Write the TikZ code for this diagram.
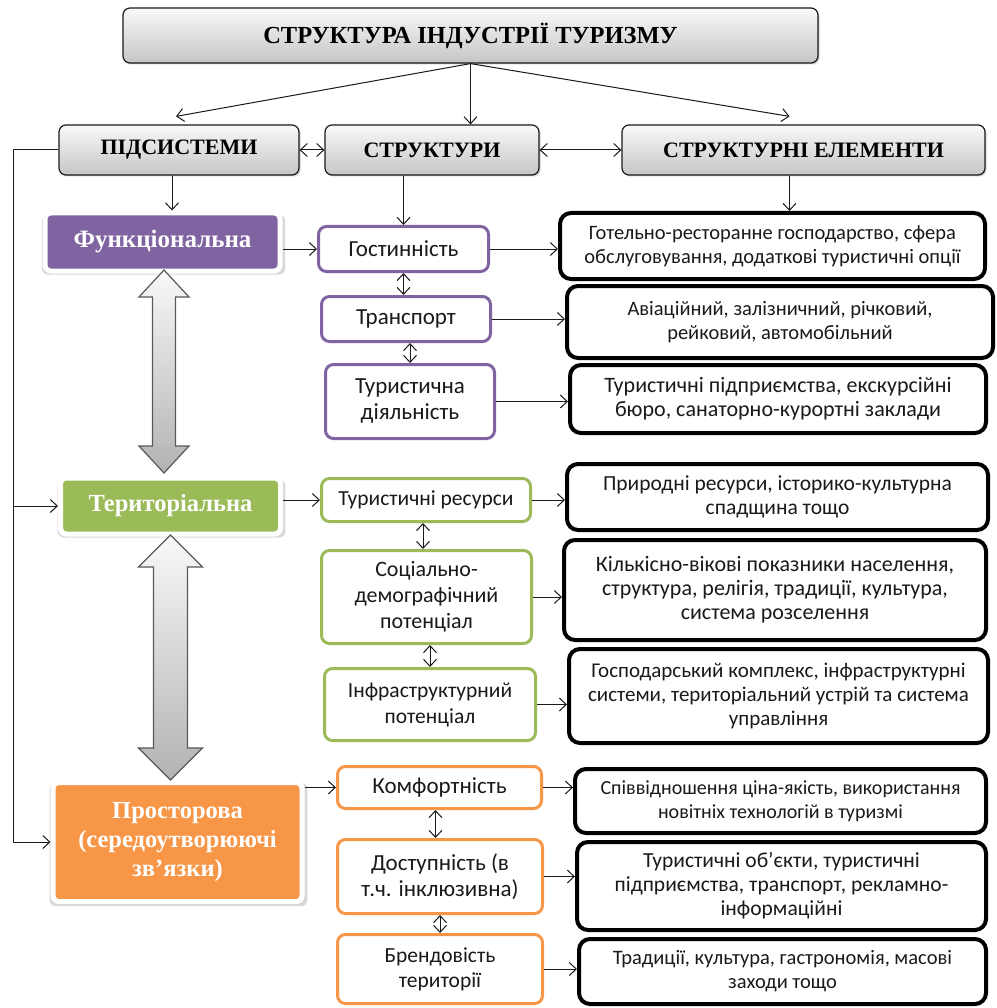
\documentclass[tikz,border=0pt]{standalone}
\usepackage{fontspec}
\setmainfont{Liberation Serif}
\newfontfamily\bodyfont{Carlito}
\usetikzlibrary{arrows.meta,calc,shadows}
\definecolor{ink}{HTML}{1A1A1A}
\definecolor{purp}{HTML}{8064A2}
\definecolor{grn}{HTML}{9BBB59}
\definecolor{orng}{HTML}{F79646}
\tikzset{
  head/.style={draw=ink, line width=1.2pt, rounded corners=7pt, top color=gray!5, bottom color=gray!45, inner sep=0pt, font=\bfseries\fontsize{22}{26}\selectfont, drop shadow={opacity=0.35, shadow xshift=1.5pt, shadow yshift=-1.5pt}},
  subsys/.style={fill=#1, draw=white, line width=5pt, rounded corners=6pt, inner sep=0pt, align=center, text=white, font=\bfseries\fontsize{24.5}{29}\selectfont, drop shadow={opacity=0.3, shadow scale=1.035, shadow xshift=1pt, shadow yshift=-2.5pt}},
  struct/.style={draw=#1, line width=3pt, fill=white, rounded corners=8pt, inner sep=0pt, align=center, text=ink, font=\bodyfont\fontsize{23}{26}\selectfont},
  elem/.style={draw=black, line width=4pt, fill=white, rounded corners=11pt, inner sep=0pt, align=center, text=ink, font=\bodyfont\fontsize{#1}{24}\selectfont},
  elem/.default=21,
  arr/.style={-{Straight Barb[length=7pt,width=13pt]}, line width=1pt, draw=ink},
  darr/.style={{Straight Barb[length=7pt,width=13pt]}-{Straight Barb[length=7pt,width=13pt]}, line width=1pt, draw=ink},
  bigarr/.style={draw=gray!70!black, line width=1.2pt, top color=gray!5, bottom color=gray!60}
}

\begin{document}
\begin{tikzpicture}[x=1pt, y=-1pt]
  \fill[white] (0,0) rectangle (996,1008);
  \useasboundingbox (0,0) rectangle (996,1008);

  \node[head, minimum width=695pt, minimum height=55pt, font=\bfseries\fontsize{24.5}{28}\selectfont] (title) at (470.5,35.5) {СТРУКТУРА ІНДУСТРІЇ ТУРИЗМУ};
  \node[head, minimum width=240pt, minimum height=50pt] (pidsys) at (179,150) {ПІДСИСТЕМИ};
  \node[head, minimum width=214pt, minimum height=50pt] (struk) at (432,150) {СТРУКТУРИ};
  \node[head, minimum width=363pt, minimum height=50pt] (strel) at (803.5,150) {СТРУКТУРНІ ЕЛЕМЕНТИ};
  \draw[arr] (title.south) -- ([xshift=-3pt,yshift=8pt]pidsys.north);
  \draw[arr] (title.south) -- (title.south |- struk.north);
  \draw[arr] (title.south) -- ([xshift=-14pt,yshift=8pt]strel.north);
  \draw[darr] (pidsys.east) -- (struk.west);
  \draw[darr] (struk.east) -- (strel.west);

  \node[subsys=purp, minimum width=235pt, minimum height=58pt, font=\bfseries\fontsize{25}{29}\selectfont] (func) at (162.5,242) {Функціональна};
  \node[subsys=grn, minimum width=220pt, minimum height=56pt] (terr) at (170.5,506) {Територіальна};
  \node[subsys=orng, minimum width=249pt, minimum height=119pt] (prost) at (177.5,842) {Просторова\\(середоутворюючі\\зв’язки)};
  \draw[bigarr] (164,270) -- (189,297) -- (175.5,297) -- (175.5,446) -- (189,446) -- (164,473) -- (139,446) -- (152.5,446) -- (152.5,297) -- (139,297) -- cycle;
  \draw[bigarr] (170.5,535) -- (202.5,567) -- (187.5,567) -- (187.5,748) -- (202.5,748) -- (170.5,780) -- (138.5,748) -- (153.5,748) -- (153.5,567) -- (138.5,567) -- cycle;
  \coordinate (bend) at (13,0);
  \draw[arr] (pidsys.west) -- (pidsys.west -| bend) |- (prost.west);
  \draw[arr] (terr.west -| bend) -- (terr.west);
  \draw[arr] ([xshift=-7pt]pidsys.south) -- ([xshift=-7pt]pidsys.south |- func.north);

  \node[struct=purp, minimum width=170pt, minimum height=45pt] (hosp) at (403.5,249) {Гостинність};
  \node[struct=purp, minimum width=169pt, minimum height=45pt] (trans) at (406,319) {Транспорт};
  \node[struct=purp, minimum width=169pt, minimum height=74pt] (turd) at (410,401.5) {Туристична\\діяльність};
  \draw[arr] (hosp.north |- struk.south) -- (hosp.north);
  \draw[arr] (func.east |- hosp.west) -- (hosp.west);
  \draw[darr] (hosp.south) -- (hosp.south |- trans.north);
  \draw[darr] (turd.north |- trans.south) -- (turd.north);

  \node[struct=grn, minimum width=209pt, minimum height=43pt, font=\bodyfont\fontsize{21.5}{24}\selectfont] (res) at (426,500) {Туристичні ресурси};
  \node[struct=grn, minimum width=210pt, minimum height=93pt, font=\bodyfont\fontsize{22}{26}\selectfont] (soc) at (426.5,597) {Соціально-\\демографічний\\потенціал};
  \node[struct=grn, minimum width=211pt, minimum height=72pt, font=\bodyfont\fontsize{21.5}{26}\selectfont] (infra) at (430,704.5) {Інфраструктурний\\потенціал};
  \draw[arr] (terr.east |- res.west) -- (res.west);
  \draw[darr] ([xshift=-3pt]res.south) -- ([xshift=-3pt]res.south |- soc.north);
  \draw[darr] (infra.north |- soc.south) -- (infra.north);

  \node[struct=orng, minimum width=204pt, minimum height=42pt] (komf) at (439.5,787.5) {Комфортність};
  \node[struct=orng, minimum width=205pt, minimum height=74pt] (dost) at (440,876.5) {Доступність (в\\т.ч. інклюзивна)};
  \node[struct=orng, minimum width=205pt, minimum height=69pt, font=\bodyfont\fontsize{21.5}{25}\selectfont] (brand) at (440,969) {Брендовість\\території};
  \draw[arr] (prost.east |- komf.west) -- (komf.west);
  \draw[darr] ([xshift=-4pt]komf.south) -- ([xshift=-4pt]komf.south |- dost.north);
  \draw[darr] (dost.south) -- (dost.south |- brand.north);

  \node[elem=20.5, minimum width=425pt, minimum height=66pt] (e1) at (772.5,246) {Готельно-ресторанне господарство, сфера\\обслуговування, додаткові туристичні опції};
  \node[elem=20.5, minimum width=426pt, minimum height=72pt] (e2) at (780,322) {Авіаційний, залізничний, річковий,\\рейковий, автомобільний};
  \node[elem=22, minimum width=416pt, minimum height=68pt] (e3) at (778,399) {Туристичні підприємства, екскурсійні\\бюро, санаторно-курортні заклади};
  \node[elem=21.5, minimum width=421pt, minimum height=66pt] (e4) at (777.5,497) {Природні ресурси, історико-культурна\\спадщина тощо};
  \node[elem=22, minimum width=422pt, minimum height=100pt] (e5) at (775,590) {Кількісно-вікові показники населення,\\структура, релігія, традиції, культура,\\система розселення};
  \node[elem=21, minimum width=419pt, minimum height=94pt] (e6) at (778.5,696) {Господарський комплекс, інфраструктурні\\системи, територіальний устрій та система\\управління};
  \node[elem=20, minimum width=411pt, minimum height=64pt] (e7) at (780.5,801) {Співвідношення ціна-якість, використання\\новітніх технологій в туризмі};
  \node[elem=21.5, minimum width=409pt, minimum height=88pt] (e8) at (781.5,886) {Туристичні об’єкти, туристичні\\підприємства, транспорт, рекламно-\\інформаційні};
  \node[elem=20.5, minimum width=407pt, minimum height=65pt] (e9) at (782.5,971.5) {Традиції, культура, гастрономія, масові\\заходи тощо};
  \draw[arr] ([xshift=-14pt]strel.south) -- ([xshift=-14pt]strel.south |- e1.north);
  \draw[arr] (hosp.east) -- (hosp.east -| e1.west);
  \draw[arr] (trans.east) -- (trans.east -| e2.west);
  \draw[arr] (turd.east) -- (turd.east -| e3.west);
  \draw[arr] (res.east) -- (res.east -| e4.west);
  \draw[arr] (soc.east) -- (soc.east -| e5.west);
  \draw[arr] (infra.east) -- (infra.east -| e6.west);
  \draw[arr] (komf.east) -- (komf.east -| e7.west);
  \draw[arr] (dost.east) -- (dost.east -| e8.west);
  \draw[arr] (brand.east) -- (brand.east -| e9.west);
\end{tikzpicture}
\end{document}
